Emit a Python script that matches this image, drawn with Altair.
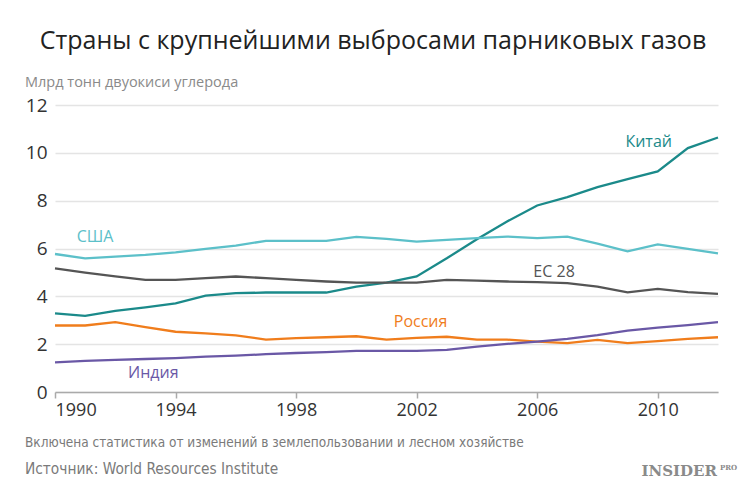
import altair as alt
import pandas as pd

years = list(range(1990, 2013))
china = [3.29, 3.18, 3.39, 3.54, 3.71, 4.03, 4.13, 4.16, 4.16, 4.16, 4.41, 4.57, 4.83,
         5.59, 6.39, 7.13, 7.80, 8.15, 8.57, 8.90, 9.22, 10.20, 10.64]
usa = [5.77, 5.59, 5.66, 5.73, 5.84, 5.98, 6.12, 6.32, 6.32, 6.32, 6.49, 6.40, 6.29,
       6.36, 6.43, 6.50, 6.43, 6.50, 6.20, 5.88, 6.17, 5.98, 5.80]
eu28 = [5.17, 4.99, 4.83, 4.69, 4.69, 4.76, 4.83, 4.76, 4.69, 4.62, 4.57, 4.57, 4.57,
        4.69, 4.66, 4.62, 4.59, 4.55, 4.41, 4.17, 4.31, 4.18, 4.10]
russia = [2.78, 2.78, 2.92, 2.71, 2.52, 2.45, 2.37, 2.19, 2.25, 2.29, 2.33, 2.19, 2.26,
          2.31, 2.19, 2.19, 2.11, 2.04, 2.18, 2.04, 2.13, 2.22, 2.29]
india = [1.24, 1.30, 1.34, 1.38, 1.42, 1.48, 1.52, 1.58, 1.63, 1.67, 1.72, 1.72, 1.72,
         1.76, 1.90, 2.01, 2.11, 2.22, 2.38, 2.57, 2.69, 2.80, 2.92]

series_names = ["Китай", "США", "ЕС 28", "Россия", "Индия"]
series_values = [china, usa, eu28, russia, india]
series_colors = ["#1b8a8a", "#5cc0c9", "#555555", "#f07d1c", "#6a58a6"]

label_years = [2009.7, 1991.33, 2006.56, 2002.13, 1993.26]
label_values = [10.46, 6.49, 5.02, 2.93, 0.80]

title_text = "Страны с крупнейшими выбросами парниковых газов"
unit_text = "Млрд тонн двуокиси углерода"
note_text = "Включена статистика от изменений в землепользовании и лесном хозяйстве"
source_text = "Источник: World Resources Institute"

rows = []
for name, vals in zip(series_names, series_values):
    for y, v in zip(years, vals):
        rows.append({"year": y, "value": v, "country": name})
df = pd.DataFrame(rows)

lab = pd.DataFrame({"year": label_years, "value": label_values, "country": series_names})

color_scale = alt.Scale(domain=series_names, range=series_colors)
x_scale = alt.Scale(domain=[1990, 2012], nice=False)
y_scale = alt.Scale(domain=[0, 12], nice=False)

FONT = "Open Sans"
NARROW = "DejaVu Sans Condensed"

lines = alt.Chart(df).mark_line(strokeWidth=2.3).encode(
    x=alt.X("year:Q", scale=x_scale,
            axis=alt.Axis(values=[1990, 1994, 1998, 2002, 2006, 2010], format="d",
                          title=None, grid=False, domainColor="#aaaaaa", domainWidth=1.5,
                          tickColor="#aaaaaa", tickSize=6, tickWidth=1.5,
                          labelFontSize=18, labelColor="#333333", labelFont=FONT,
                          labelPadding=3)),
    y=alt.Y("value:Q", scale=y_scale,
            axis=alt.Axis(values=list(range(0, 13)),
                          labelExpr="datum.value % 2 == 0 ? datum.label : ''",
                          title=None, domain=False, ticks=False,
                          gridColor="#e4e4e4", gridWidth=1.5,
                          labelFontSize=19, labelColor="#333333", labelFont=FONT,
                          labelPadding=8)),
    color=alt.Color("country:N", scale=color_scale, legend=None),
    detail="country:N",
)

labels = alt.Chart(lab).mark_text(fontSize=16, font=FONT, align="center", baseline="middle").encode(
    x=alt.X("year:Q", scale=x_scale),
    y=alt.Y("value:Q", scale=y_scale),
    text="country:N",
    color=alt.Color("country:N", scale=color_scale, legend=None),
)

one = pd.DataFrame({"a": [0]})

def txt(text, x, y, size, color, align="left", font=FONT, weight="normal"):
    return alt.Chart(one).mark_text(
        text=text, fontSize=size, color=color, align=align, baseline="middle",
        font=font, fontWeight=weight
    ).encode(x=alt.value(x), y=alt.value(y))

title = txt(title_text, 318, -64, 25, "#222222", align="center")
unit = txt(unit_text, -30, -22, 14.5, "#8a8a8a")
note = txt(note_text, -30, 338, 13.5, "#7a7a7a", font=NARROW)
source = txt(source_text, -30, 364, 15.3, "#7a7a7a", font=NARROW)
logo = txt("INSIDER", 662, 366, 15, "#8a8a8a", align="right", font="DejaVu Serif", weight="bold")
logo_pro = txt("PRO", 665, 363, 7, "#8a8a8a", align="left", font="DejaVu Serif", weight="bold")

chart = alt.layer(lines, labels, title, unit, note, source, logo, logo_pro).properties(
    width=663, height=287,
    autosize=alt.AutoSizeParams(type="none"),
    padding={"left": 47, "top": 97, "right": 24, "bottom": 99},
    background="white",
).configure_view(stroke=None)

chart.save("out.html", embed_options={"renderer": "svg", "actions": False})
